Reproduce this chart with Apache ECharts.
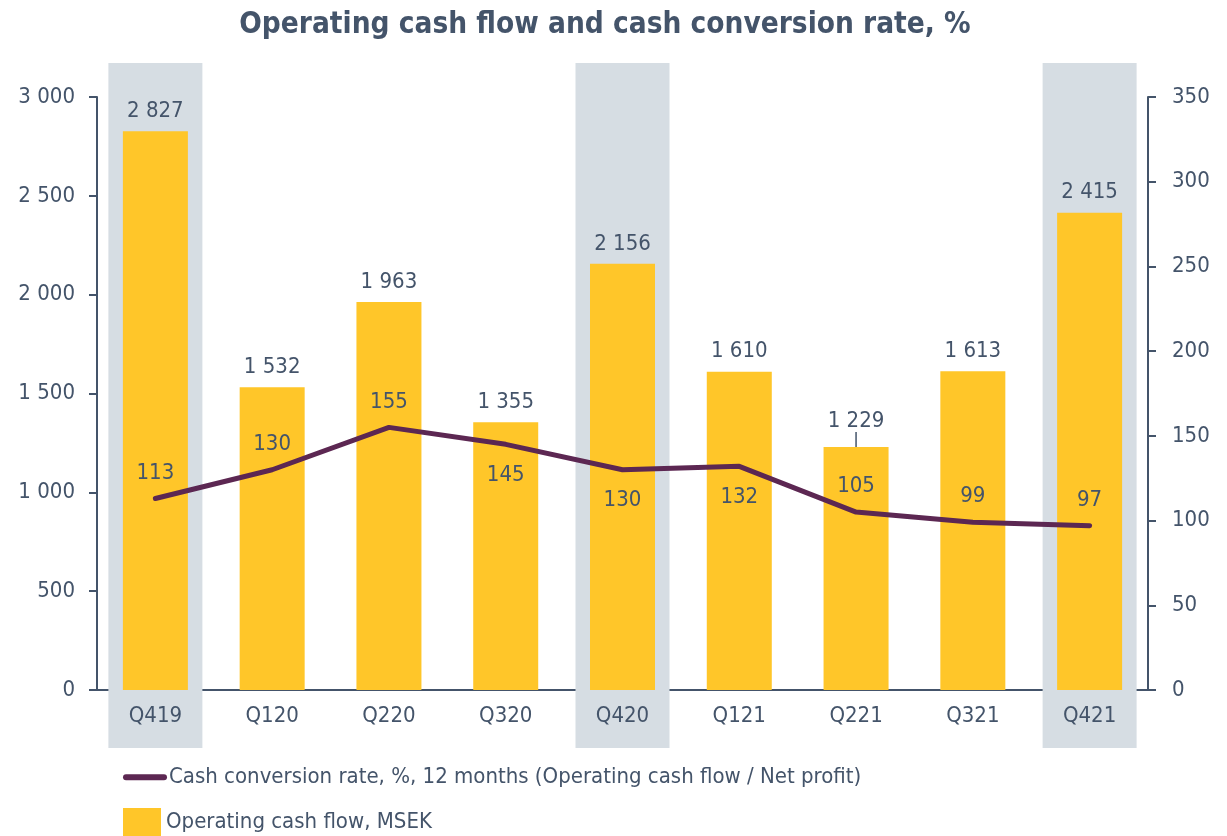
<!DOCTYPE html>
<html lang="en">
<head>
    <meta charset="UTF-8">
    <title>Operating cash flow</title>
    <script type="text/javascript" src="https://cdn.jsdelivr.net/npm/echarts@6/dist/echarts.min.js"></script>
    <style>
        html, body { margin: 0; padding: 0; background: #fff; }
        #main { width: 1227px; height: 836px; }
    </style>
</head>
<body>
<div id="main"></div>
<script>
    var quarters = ['Q419', 'Q120', 'Q220', 'Q320', 'Q420', 'Q121', 'Q221', 'Q321', 'Q421'];
    var cashFlow = [2827, 1532, 1963, 1355, 2156, 1610, 1229, 1613, 2415];
    var conversionRate = [113, 130, 155, 145, 130, 132, 105, 99, 97];
    var highlighted = [1, 0, 0, 0, 1, 0, 0, 0, 1];
    var leftTicks = [0, 500, 1000, 1500, 2000, 2500, 3000];
    var rightTicks = [0, 50, 100, 150, 200, 250, 300, 350];

    var rateLabelPos = ['top', 'top', 'top', 'bottom', 'bottom', 'bottom', 'top', 'top', 'top'];

    var lineName = 'Cash conversion rate, %, 12 months (Operating cash flow / Net profit)';
    var barName = 'Operating cash flow, MSEK';

    var font = "'Liberation Sans Narrow', 'Arial Narrow', 'DejaVu Sans Condensed', sans-serif";
    var textColor = '#44546A';
    var fs = 22;

    function spaced(v) {
        return String(v).replace(/\B(?=(\d{3})+(?!\d))/g, ' ');
    }

    var mychart = echarts.init(document.getElementById('main'));
    var option = {
        animation: false,
        textStyle: { fontFamily: font, color: textColor },
        title: {
            text: 'Operating cash flow and cash conversion rate, %',
            left: 600,
            textAlign: 'center',
            top: 5,
            textStyle: { fontFamily: font, fontSize: 29.5, fontWeight: 'bold', color: textColor }
        },
        legend: [
            {
                left: 118,
                top: 761,
                itemWidth: 38,
                itemHeight: 28,
                textStyle: { fontFamily: font, fontSize: fs, color: textColor },
                data: [{
                    name: lineName,
                    itemStyle: { color: 'rgba(0,0,0,0)', borderWidth: 0 },
                    lineStyle: { color: '#5C2752', width: 6, cap: 'round' }
                }]
            },
            {
                left: 118,
                top: 803,
                itemWidth: 38,
                itemHeight: 28,
                textStyle: { fontFamily: font, fontSize: fs, color: textColor },
                data: [{ name: barName, icon: 'rect' }]
            }
        ],
        grid: [
            { left: 97, right: 79, top: 97, bottom: 146 },
            { left: 97, right: 79, top: 63, bottom: 88 }
        ],
        xAxis: [
            {
                type: 'category',
                gridIndex: 0,
                data: quarters,
                axisLine: { lineStyle: { color: textColor, width: 2 } },
                axisTick: { show: false },
                axisLabel: { fontFamily: font, fontSize: fs, color: textColor, margin: 15 }
            },
            {
                type: 'category',
                gridIndex: 1,
                data: quarters,
                show: false
            }
        ],
        yAxis: [
            {
                type: 'value',
                gridIndex: 0,
                min: leftTicks[0],
                max: leftTicks[leftTicks.length - 1],
                interval: 500,
                splitLine: { show: false },
                axisLine: { show: true, lineStyle: { color: textColor, width: 2 } },
                axisTick: { show: true, length: 8, lineStyle: { color: textColor, width: 2 } },
                axisLabel: { fontFamily: font, fontSize: fs, color: textColor, margin: 22, formatter: spaced }
            },
            {
                type: 'value',
                gridIndex: 0,
                position: 'right',
                min: rightTicks[0],
                max: rightTicks[rightTicks.length - 1],
                interval: 50,
                splitLine: { show: false },
                axisLine: { show: true, lineStyle: { color: textColor, width: 2 } },
                axisTick: { show: true, length: 8, lineStyle: { color: textColor, width: 2 } },
                axisLabel: { fontFamily: font, fontSize: fs, color: textColor, margin: 24 }
            },
            {
                type: 'value',
                gridIndex: 1,
                min: 0,
                max: 1,
                show: false
            }
        ],
        series: [
            {
                name: 'bands',
                type: 'bar',
                xAxisIndex: 1,
                yAxisIndex: 2,
                data: highlighted,
                barWidth: 94,
                itemStyle: { color: '#D6DDE3' },
                silent: true,
                z: 0
            },
            {
                name: barName,
                type: 'bar',
                xAxisIndex: 0,
                yAxisIndex: 0,
                data: cashFlow.map(function (v, i) {
                    return i === 6 ? { value: v, labelLine: { show: true } } : v;
                }),
                barWidth: 65,
                itemStyle: { color: '#FFC629' },
                label: {
                    show: true,
                    position: 'top',
                    distance: 9,
                    fontFamily: font,
                    fontSize: fs,
                    color: textColor,
                    formatter: function (p) { return spaced(p.value); }
                },
                labelLine: { show: false, lineStyle: { color: textColor, width: 1.5 } },
                labelLayout: function (p) {
                    if (p.dataIndex === 6) return { dy: -6 };
                    return {};
                },
                z: 2
            },
            {
                name: lineName,
                type: 'line',
                xAxisIndex: 0,
                yAxisIndex: 1,
                data: conversionRate.map(function (v, i) {
                    var below = rateLabelPos[i] === 'bottom';
                    return { value: v, label: { position: rateLabelPos[i], distance: below ? 19 : 14 } };
                }),
                symbol: 'circle',
                symbolSize: 1,
                lineStyle: { color: '#5C2752', width: 5, cap: 'round' },
                itemStyle: { color: '#5C2752' },
                label: {
                    show: true,
                    distance: 14,
                    fontFamily: font,
                    fontSize: fs,
                    color: textColor
                },
                z: 3
            }
        ]
    };
    mychart.setOption(option);
</script>
</body>
</html>
